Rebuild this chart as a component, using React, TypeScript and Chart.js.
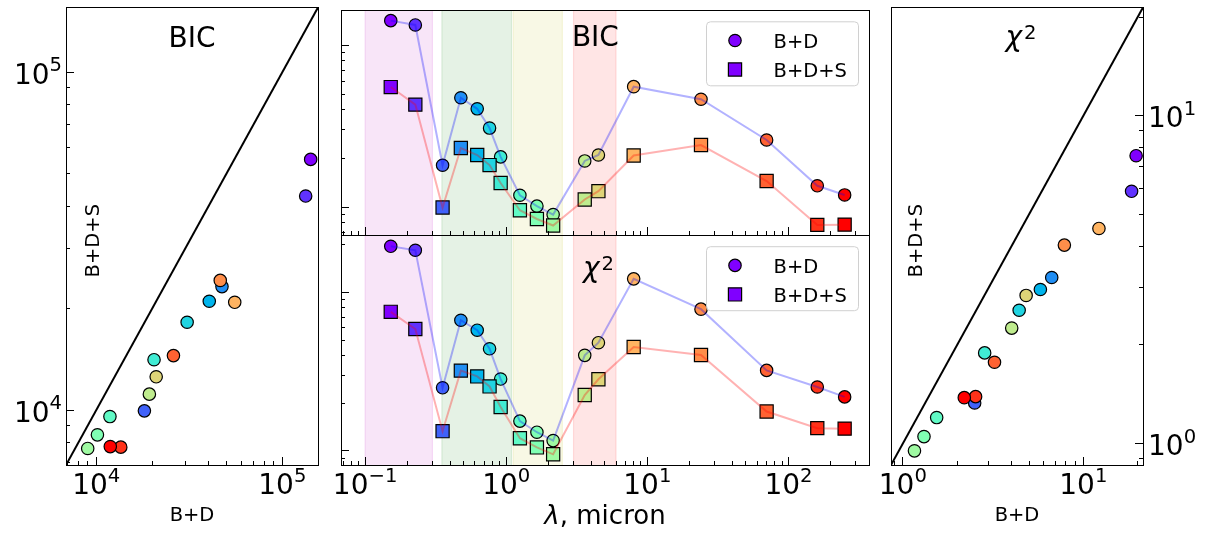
import React, { useEffect, useRef } from 'react';
import { Chart, registerables } from 'chart.js';

Chart.register(...registerables);

const W = 1211;
const H = 535;
const FONT = '"DejaVu Sans", sans-serif';

// Band centres, micron (UV -> far-IR)
const wavelengths = [0.152, 0.227, 0.354, 0.477, 0.623, 0.762, 0.913, 1.25, 1.65, 2.15, 3.6, 4.5, 8.0, 24, 70, 160, 250];
// BIC of the bulge+disc and bulge+disc+spiral models
const bicBD = [142000, 133500, 18150, 47400, 40500, 30800, 20450, 11850, 10150, 9000, 19300, 21000, 55500, 46400, 26000, 13550, 11900];
const bicBDS = [55200, 43000, 9950, 23200, 21000, 18200, 14100, 9570, 8450, 7700, 11150, 12550, 20850, 24200, 14500, 7770, 7800];
// reduced chi^2 of the same models
const chi2BD = [19.6, 18.5, 2.5, 6.68, 5.78, 4.41, 2.84, 1.54, 1.31, 1.16, 4.01, 4.82, 12.2, 7.85, 3.22, 2.53, 2.19];
const chi2BDS = [7.55, 5.88, 1.33, 3.21, 2.95, 2.55, 1.89, 1.2, 1.05, 0.95, 2.25, 2.83, 4.53, 4.03, 1.77, 1.39, 1.38];

// Shaded wavelength domains
const bandLo = [0.1, 0.35, 1.12, 3.0];
const bandHi = [0.3, 1.09, 2.5, 6.0];

const seriesNames = ['B+D', 'B+D+S'];

// Axis limits
const bicRange = [6880, 155500];
const chi2Range = [0.86, 21.4];
const lambdaRange = [0.0675, 372];
const bicLambdaRange = [6730, 164000];
const chi2LambdaRange = [0.813, 23.1];

// Decades that carry tick labels
const bicTickExps = [4, 5];
const chi2TickExps = [0, 1];
const lambdaTickExps = [-1, 0, 1, 2];

const bandFill = ['rgba(191,0,191,', 'rgba(0,128,0,', 'rgba(191,191,0,', 'rgba(255,0,0,'];

function rainbow(t: number) {
  const r = Math.min(1, Math.abs(2 * t - 0.5));
  const g = Math.sin(Math.PI * t);
  const b = Math.cos((Math.PI * t) / 2);
  return `rgb(${Math.round(r * 255)},${Math.round(g * 255)},${Math.round(b * 255)})`;
}
const pointColors = wavelengths.map((_, i) => rainbow(i / (wavelengths.length - 1)));

type Box = { l: number; t: number; r: number; b: number };
const leftBox: Box = { l: 66, t: 6, r: 318, b: 465 };
const midTopBox: Box = { l: 341, t: 6, r: 869, b: 235 };
const midBotBox: Box = { l: 341, t: 235, r: 869, b: 465 };
const rightBox: Box = { l: 891, t: 6, r: 1143, b: 465 };

const crisp = (v: number) => Math.round(v - 0.5) + 0.5;
const expText = (e: number) => (e < 0 ? '\u2212' + String(-e) : String(e));

function logTicks(min: number, max: number) {
  const major: number[] = [];
  const minor: number[] = [];
  for (let e = Math.floor(Math.log10(min)); e <= Math.ceil(Math.log10(max)); e++) {
    for (let m = 1; m <= 9; m++) {
      const v = m * Math.pow(10, e);
      if (v < min * 0.99999 || v > max * 1.00001) continue;
      (m === 1 ? major : minor).push(v);
    }
  }
  return { major, minor };
}

function drawTicks(chart: any, axis: 'x' | 'y', side: 'bottom' | 'left' | 'right') {
  const ctx = chart.ctx;
  const a = chart.chartArea;
  const s = chart.scales[axis];
  const { major, minor } = logTicks(s.min, s.max);
  ctx.save();
  ctx.strokeStyle = '#000';
  ctx.lineWidth = 1;
  ctx.beginPath();
  const put = (v: number, len: number) => {
    const p = crisp(s.getPixelForValue(v));
    if (side === 'bottom') {
      ctx.moveTo(p, a.bottom);
      ctx.lineTo(p, a.bottom - len);
    } else if (side === 'left') {
      ctx.moveTo(a.left, p);
      ctx.lineTo(a.left + len, p);
    } else {
      ctx.moveTo(a.right, p);
      ctx.lineTo(a.right - len, p);
    }
  };
  major.forEach((v) => put(v, 8));
  minor.forEach((v) => put(v, 4));
  ctx.stroke();
  ctx.restore();
}

function drawFrame(chart: any) {
  const ctx = chart.ctx;
  const a = chart.chartArea;
  ctx.save();
  ctx.strokeStyle = '#000';
  ctx.lineWidth = 1;
  const x0 = crisp(a.left);
  const y0 = crisp(a.top);
  ctx.strokeRect(x0, y0, crisp(a.right) - x0, crisp(a.bottom) - y0);
  ctx.restore();
}

function drawPower(ctx: any, x: number, y: number, exp: string, align: 'center' | 'left' | 'right') {
  ctx.save();
  ctx.fillStyle = '#000';
  ctx.textAlign = 'left';
  ctx.textBaseline = 'alphabetic';
  ctx.font = `28px ${FONT}`;
  const w1 = ctx.measureText('10').width;
  ctx.font = `19.6px ${FONT}`;
  const w2 = ctx.measureText(exp).width;
  const total = w1 + w2;
  const x0 = align === 'center' ? x - total / 2 : align === 'right' ? x - total : x;
  ctx.font = `28px ${FONT}`;
  ctx.fillText('10', x0, y);
  ctx.font = `19.6px ${FONT}`;
  ctx.fillText(exp, x0 + w1, y - 12.5);
  ctx.restore();
}

function drawXTickLabels(chart: any, exps: number[]) {
  const s = chart.scales.x;
  const a = chart.chartArea;
  exps.forEach((e) => drawPower(chart.ctx, s.getPixelForValue(Math.pow(10, e)), a.bottom + 29, expText(e), 'center'));
}

function drawYTickLabels(chart: any, exps: number[], side: 'left' | 'right') {
  const s = chart.scales.y;
  const a = chart.chartArea;
  exps.forEach((e) => {
    const y = s.getPixelForValue(Math.pow(10, e)) + 11.5;
    if (side === 'left') drawPower(chart.ctx, a.left - 4, y, expText(e), 'right');
    else drawPower(chart.ctx, a.right + 5, y, expText(e), 'left');
  });
}

function drawText(ctx: any, text: string, x: number, y: number, size: number, align = 'center') {
  ctx.save();
  ctx.fillStyle = '#000';
  ctx.font = `${size}px ${FONT}`;
  ctx.textAlign = align;
  ctx.textBaseline = 'alphabetic';
  ctx.fillText(text, x, y);
  ctx.restore();
}

function drawVertical(ctx: any, text: string, x: number, y: number, size: number) {
  ctx.save();
  ctx.fillStyle = '#000';
  ctx.font = `${size}px ${FONT}`;
  ctx.translate(x, y);
  ctx.rotate(-Math.PI / 2);
  ctx.textAlign = 'center';
  ctx.textBaseline = 'middle';
  ctx.fillText(text, 0, 0);
  ctx.restore();
}

function drawChi2(ctx: any, cx: number, baseline: number) {
  ctx.save();
  ctx.fillStyle = '#000';
  ctx.textAlign = 'left';
  ctx.textBaseline = 'alphabetic';
  ctx.font = `italic 28px ${FONT}`;
  const w1 = ctx.measureText('\u03c7').width;
  ctx.font = `19.6px ${FONT}`;
  const w2 = ctx.measureText('2').width;
  const x0 = cx - (w1 + w2 + 2) / 2;
  ctx.font = `italic 28px ${FONT}`;
  ctx.fillText('\u03c7', x0, baseline);
  ctx.font = `19.6px ${FONT}`;
  ctx.fillText('2', x0 + w1 + 2, baseline - 7);
  ctx.restore();
}

function drawLambdaLabel(ctx: any, cx: number, baseline: number) {
  ctx.save();
  ctx.fillStyle = '#000';
  ctx.textAlign = 'left';
  ctx.textBaseline = 'alphabetic';
  ctx.font = `italic 26px ${FONT}`;
  const w1 = ctx.measureText('\u03bb').width;
  ctx.font = `26px ${FONT}`;
  const rest = ', micron';
  const w2 = ctx.measureText(rest).width;
  const x0 = cx - (w1 + w2) / 2;
  ctx.font = `italic 26px ${FONT}`;
  ctx.fillText('\u03bb', x0, baseline);
  ctx.font = `26px ${FONT}`;
  ctx.fillText(rest, x0 + w1, baseline);
  ctx.restore();
}

function drawLegend(ctx: any, left: number, top: number) {
  const w = 152;
  const h = 64;
  const rad = 4;
  ctx.save();
  ctx.beginPath();
  ctx.moveTo(left + rad, top);
  ctx.lineTo(left + w - rad, top);
  ctx.arcTo(left + w, top, left + w, top + rad, rad);
  ctx.lineTo(left + w, top + h - rad);
  ctx.arcTo(left + w, top + h, left + w - rad, top + h, rad);
  ctx.lineTo(left + rad, top + h);
  ctx.arcTo(left, top + h, left, top + h - rad, rad);
  ctx.lineTo(left, top + rad);
  ctx.arcTo(left, top, left + rad, top, rad);
  ctx.closePath();
  ctx.fillStyle = 'rgba(255,255,255,0.8)';
  ctx.fill();
  ctx.strokeStyle = '#d0d0d0';
  ctx.lineWidth = 1;
  ctx.stroke();

  const mx = left + 28.5;
  ctx.fillStyle = pointColors[0];
  ctx.strokeStyle = '#000';
  ctx.lineWidth = 1.2;
  ctx.beginPath();
  ctx.arc(mx, top + 18.7, 6.2, 0, Math.PI * 2);
  ctx.fill();
  ctx.stroke();
  ctx.beginPath();
  ctx.rect(mx - 6.6, top + 47.7 - 6.6, 13.2, 13.2);
  ctx.fill();
  ctx.stroke();
  ctx.restore();

  drawText(ctx, seriesNames[0], left + 67, top + 26, 19.5, 'left');
  drawText(ctx, seriesNames[1], left + 67, top + 55.4, 19.5, 'left');
}

const bandsPlugin = {
  id: 'bands',
  beforeDatasetsDraw(chart: any) {
    const ctx = chart.ctx;
    const a = chart.chartArea;
    const s = chart.scales.x;
    ctx.save();
    bandLo.forEach((lo, i) => {
      const x0 = s.getPixelForValue(lo);
      const x1 = s.getPixelForValue(bandHi[i]);
      ctx.fillStyle = bandFill[i] + '0.1)';
      ctx.fillRect(x0, a.top, x1 - x0, a.bottom - a.top);
      ctx.strokeStyle = bandFill[i] + '0.12)';
      ctx.lineWidth = 1.2;
      ctx.beginPath();
      ctx.moveTo(x0, a.top);
      ctx.lineTo(x0, a.bottom);
      ctx.moveTo(x1, a.top);
      ctx.lineTo(x1, a.bottom);
      ctx.stroke();
    });
    ctx.restore();
  },
};

function markerSet(xs: number[], ys: number[], style: string, order: number) {
  return {
    data: xs.map((x, i) => ({ x, y: ys[i] })),
    showLine: false,
    pointStyle: style,
    pointRadius: style === 'rect' ? 9.3 : 6.2,
    pointBackgroundColor: pointColors,
    pointBorderColor: '#000',
    pointBorderWidth: 1.2,
    order,
    clip: false,
  };
}

function lineSet(xs: number[], ys: number[], color: string) {
  return {
    data: xs.map((x, i) => ({ x, y: ys[i] })),
    showLine: true,
    borderColor: color,
    borderWidth: 2,
    pointRadius: 0,
    order: 0,
    clip: false,
  };
}

function diagonalSet(range: number[]) {
  return {
    data: [
      { x: range[0], y: range[0] },
      { x: range[1], y: range[1] },
    ],
    showLine: true,
    borderColor: '#000',
    borderWidth: 2,
    pointRadius: 0,
    order: 3,
  };
}

function baseConfig(box: Box, xr: number[], yr: number[], datasets: any[], plugins: any[]) {
  return {
    type: 'scatter',
    data: { datasets },
    options: {
      animation: false,
      responsive: false,
      devicePixelRatio: 1,
      events: [],
      layout: { padding: { left: box.l, top: box.t, right: W - box.r, bottom: H - box.b } },
      plugins: { legend: { display: false }, tooltip: { enabled: false } },
      scales: {
        x: { type: 'logarithmic', min: xr[0], max: xr[1], display: false, bounds: 'data' },
        y: { type: 'logarithmic', min: yr[0], max: yr[1], display: false, bounds: 'data' },
      },
    },
    plugins,
  };
}

function leftConfig() {
  return baseConfig(
    leftBox,
    bicRange,
    bicRange,
    [markerSet(bicBD, bicBDS, 'circle', 1), diagonalSet(bicRange)],
    [
      {
        id: 'leftDecor',
        afterDraw(chart: any) {
          const ctx = chart.ctx;
          const a = chart.chartArea;
          drawFrame(chart);
          drawTicks(chart, 'x', 'bottom');
          drawTicks(chart, 'y', 'left');
          drawXTickLabels(chart, bicTickExps);
          drawYTickLabels(chart, bicTickExps, 'left');
          drawText(ctx, 'BIC', (a.left + a.right) / 2, a.top + 39.4, 28);
          drawText(ctx, seriesNames[0], (a.left + a.right) / 2, a.bottom + 56, 19.5);
          drawVertical(ctx, seriesNames[1], a.left + 28, (a.top + a.bottom) / 2 + 4.5, 19.5);
        },
      },
    ]
  );
}

function midTopConfig() {
  return baseConfig(
    midTopBox,
    lambdaRange,
    bicLambdaRange,
    [
      lineSet(wavelengths, bicBD, 'rgba(0,0,255,0.3)'),
      lineSet(wavelengths, bicBDS, 'rgba(255,0,0,0.3)'),
      markerSet(wavelengths, bicBDS, 'rect', 1),
      markerSet(wavelengths, bicBD, 'circle', 2),
    ],
    [
      bandsPlugin,
      {
        id: 'midTopDecor',
        afterDraw(chart: any) {
          const ctx = chart.ctx;
          const a = chart.chartArea;
          drawFrame(chart);
          drawTicks(chart, 'x', 'bottom');
          drawTicks(chart, 'y', 'left');
          drawText(ctx, 'BIC', 595.4, a.top + 35.7, 28);
          drawLegend(ctx, 706.5, a.top + 11.3);
        },
      },
    ]
  );
}

function midBotConfig() {
  return baseConfig(
    midBotBox,
    lambdaRange,
    chi2LambdaRange,
    [
      lineSet(wavelengths, chi2BD, 'rgba(0,0,255,0.3)'),
      lineSet(wavelengths, chi2BDS, 'rgba(255,0,0,0.3)'),
      markerSet(wavelengths, chi2BDS, 'rect', 1),
      markerSet(wavelengths, chi2BD, 'circle', 2),
    ],
    [
      bandsPlugin,
      {
        id: 'midBotDecor',
        afterDraw(chart: any) {
          const ctx = chart.ctx;
          const a = chart.chartArea;
          drawFrame(chart);
          drawTicks(chart, 'x', 'bottom');
          drawTicks(chart, 'y', 'left');
          drawXTickLabels(chart, lambdaTickExps);
          drawChi2(ctx, 598.5, a.top + 41.8);
          drawLambdaLabel(ctx, (a.left + a.right) / 2, a.bottom + 59);
          drawLegend(ctx, 706.5, a.top + 11.7);
        },
      },
    ]
  );
}

function rightConfig() {
  return baseConfig(
    rightBox,
    chi2Range,
    chi2Range,
    [markerSet(chi2BD, chi2BDS, 'circle', 1), diagonalSet(chi2Range)],
    [
      {
        id: 'rightDecor',
        afterDraw(chart: any) {
          const ctx = chart.ctx;
          const a = chart.chartArea;
          drawFrame(chart);
          drawTicks(chart, 'x', 'bottom');
          drawTicks(chart, 'y', 'right');
          drawXTickLabels(chart, chi2TickExps);
          drawYTickLabels(chart, chi2TickExps, 'right');
          drawChi2(ctx, 1021, a.top + 38.3);
          drawText(ctx, seriesNames[0], (a.left + a.right) / 2, a.bottom + 56, 19.5);
          drawVertical(ctx, seriesNames[1], a.left + 26, (a.top + a.bottom) / 2 + 4.5, 19.5);
        },
      },
    ]
  );
}

function PanelCanvas({ build }: { build: () => any }) {
  const ref = useRef<HTMLCanvasElement | null>(null);
  useEffect(() => {
    if (!ref.current) return;
    const chart = new Chart(ref.current, build());
    return () => chart.destroy();
  }, [build]);
  return (
    <canvas
      ref={ref}
      width={W}
      height={H}
      style={{ position: 'absolute', left: 0, top: 0, width: W, height: H }}
    />
  );
}

export default function App() {
  return (
    <div style={{ position: 'absolute', left: 0, top: 0, width: W, height: H, background: '#fff', overflow: 'hidden' }}>
      <PanelCanvas build={leftConfig} />
      <PanelCanvas build={midTopConfig} />
      <PanelCanvas build={midBotConfig} />
      <PanelCanvas build={rightConfig} />
    </div>
  );
}
